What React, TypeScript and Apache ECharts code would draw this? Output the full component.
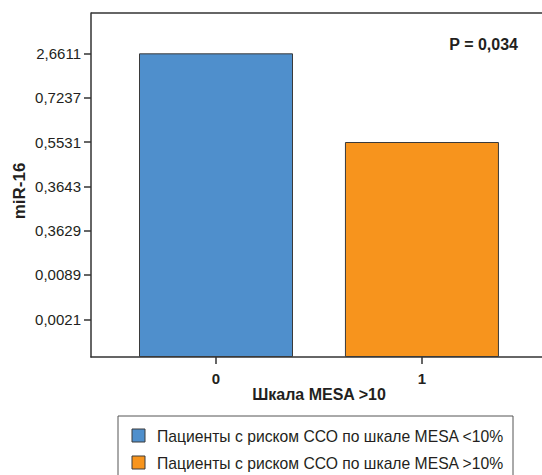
import React, { useEffect, useRef } from "react";
import * as echarts from "echarts";

const tickLabels = ["0,0021", "0,0089", "0,3629", "0,3643", "0,5531", "0,7237", "2,6611"];
const categories = ["0", "1"];
const seriesNames = [
  "Пациенты с риском ССО по шкале MESA <10%",
  "Пациенты с риском ССО по шкале MESA >10%",
];
const seriesValues = ["2,6611", "0,5531"];
const colors = ["#4F8FCC", "#F7941D"];
const pText = "P = 0,034";
const xTitle = "Шкала MESA >10";
const yTitle = "miR-16";

const TICK_OFFSET = 0.85;
const Y_MAX = 7.76;
const FONT = "'Liberation Sans', Arial, sans-serif";
const TXT = "#231F20";

export default function App() {
  const ref = useRef<HTMLDivElement>(null);
  useEffect(() => {
    if (!ref.current) return;
    const chart = echarts.init(ref.current, null, { renderer: "svg" });
    const tickPos = tickLabels.map((_, i) => i + TICK_OFFSET);
    const posOf = (v: string) => tickLabels.indexOf(v) + TICK_OFFSET;
    const series = seriesValues.map((v, i) => ({
      type: "bar",
      name: seriesNames[i],
      data: [[i, posOf(v)]],
      barWidth: 154,
      barGap: "-100%",
      itemStyle: { color: colors[i], borderColor: "#3a3a3a", borderWidth: 1 },
    }));
    chart.setOption({
      animation: false,
      grid: { left: 91, top: 13, right: 0, bottom: 118 },
      xAxis: {
        type: "value",
        min: -0.607,
        max: 1.583,
        splitLine: { show: false },
        axisLine: { show: true, onZero: false, lineStyle: { color: "#333", width: 1.5 } },
        axisTick: { show: true, customValues: [0, 1], length: 7, lineStyle: { color: "#333", width: 1.5 } },
        axisLabel: {
          customValues: [0, 1],
          formatter: (v: number) => categories[Math.round(v)],
          fontFamily: FONT,
          fontSize: 15,
          fontWeight: "bold",
          color: TXT,
          margin: 14,
        },
      },
      yAxis: {
        type: "value",
        min: 0,
        max: Y_MAX,
        splitLine: { show: false },
        axisLine: { show: true, onZero: false, lineStyle: { color: "#333", width: 1.5 } },
        axisTick: { show: true, customValues: tickPos, length: 7, lineStyle: { color: "#333", width: 1.5 } },
        axisLabel: {
          customValues: tickPos,
          formatter: (v: number) => tickLabels[Math.round(v - TICK_OFFSET)],
          fontFamily: FONT,
          fontSize: 15,
          color: TXT,
          margin: 10,
        },
      },
      series,
      graphic: [
        { type: "line", shape: { x1: 91, y1: 13, x2: 542, y2: 13 }, style: { stroke: "#333", lineWidth: 1.5 } },
        {
          type: "text", x: 518, y: 44,
          style: { text: pText, font: `bold 16px ${FONT}`, fill: TXT, textAlign: "right", textVerticalAlign: "middle" },
        },
        {
          type: "text", x: 319, y: 394,
          style: { text: xTitle, font: `bold 16px ${FONT}`, fill: TXT, textAlign: "center", textVerticalAlign: "middle" },
        },
        {
          type: "text", x: 19, y: 191, rotation: Math.PI / 2,
          style: { text: yTitle, font: `bold 17px ${FONT}`, fill: TXT, textAlign: "center", textVerticalAlign: "middle" },
        },
        { type: "rect", shape: { x: 118, y: 416, width: 395, height: 80 }, style: { fill: "#fff", stroke: "#555", lineWidth: 1 } },
        ...seriesNames.flatMap((n, i) => [
          {
            type: "rect", shape: { x: 132, y: 429 + i * 27, width: 13, height: 13 },
            style: { fill: colors[i], stroke: "#3a3a3a", lineWidth: 1 },
          },
          {
            type: "text", x: 157, y: 436 + i * 27,
            style: { text: n, font: `15.7px ${FONT}`, fill: TXT, textVerticalAlign: "middle" },
          },
        ]),
      ],
    });
    return () => chart.dispose();
  }, []);
  return <div ref={ref} style={{ width: 542, height: 475, position: "absolute", left: 0, top: 0 }} />;
}
